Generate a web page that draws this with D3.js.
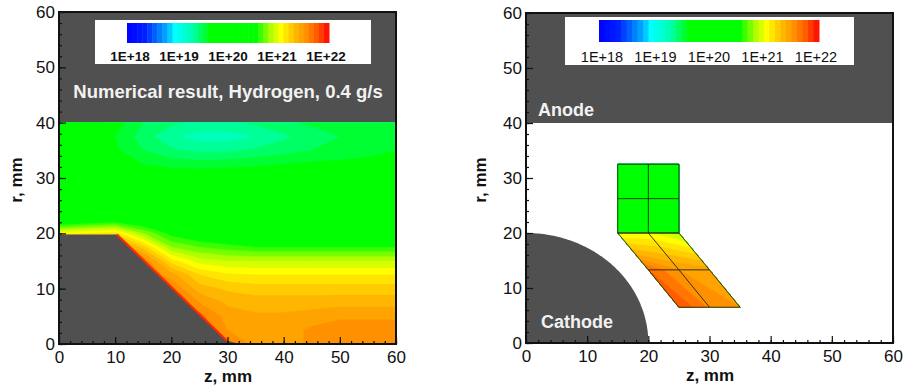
<!DOCTYPE html>
<html>
<head>
<meta charset="utf-8">
<script src="https://cdn.jsdelivr.net/npm/d3@7"></script>
<style>
  body { margin: 0; background: #fff; }
  text { font-family: "Liberation Sans", Arial, sans-serif; }
</style>
</head>
<body>
<svg id="chart" width="906" height="389"></svg>
<script>
// axes
const zTicks = [0, 10, 20, 30, 40, 50, 60];
const rTicks = [0, 10, 20, 30, 40, 50, 60];
const cbTicks = [18, 19, 20, 21, 22];
const cbLabels = ['1E+18', '1E+19', '1E+20', '1E+21', '1E+22'];
const levels = d3.range(18, 22.001, 0.1);

// numerical result: log10 density on a z/r grid (rows from r=40 down to r=0)
const zNodes = [0, 5, 10, 15, 20, 25, 30, 35, 40, 45, 50, 55, 60];
const rNodes = [40, 37.5, 35, 32.5, 30, 27.5, 25, 22.5, 20, 17.5, 15, 12.5, 10, 7.5, 5, 2.5, 0];
const logDensity = [
  [19.80, 19.75, 19.65, 19.50, 19.42, 19.38, 19.38, 19.42, 19.48, 19.52, 19.55, 19.58, 19.60],
  [19.80, 19.72, 19.60, 19.45, 19.32, 19.25, 19.25, 19.30, 19.38, 19.45, 19.50, 19.55, 19.58],
  [19.85, 19.75, 19.62, 19.50, 19.42, 19.38, 19.38, 19.42, 19.46, 19.50, 19.53, 19.56, 19.60],
  [19.95, 19.85, 19.72, 19.60, 19.56, 19.55, 19.56, 19.58, 19.60, 19.62, 19.63, 19.64, 19.65],
  [20.00, 19.95, 19.85, 19.75, 19.70, 19.70, 19.70, 19.70, 19.70, 19.72, 19.72, 19.72, 19.72],
  [20.05, 20.05, 20.00, 19.95, 19.90, 19.90, 19.90, 19.90, 19.90, 19.90, 19.90, 19.90, 19.90],
  [20.10, 20.15, 20.15, 20.10, 20.05, 20.05, 20.05, 20.05, 20.05, 20.05, 20.05, 20.05, 20.05],
  [20.30, 20.40, 20.45, 20.40, 20.25, 20.20, 20.15, 20.15, 20.15, 20.15, 20.15, 20.15, 20.15],
  [21.05, 21.10, 21.15, 20.80, 20.55, 20.45, 20.40, 20.35, 20.35, 20.35, 20.35, 20.35, 20.35],
  [21.60, 21.60, 21.60, 21.25, 20.80, 20.70, 20.65, 20.60, 20.60, 20.60, 20.60, 20.60, 20.60],
  [21.60, 21.60, 21.60, 21.60, 21.15, 20.95, 20.90, 20.90, 20.90, 20.90, 20.90, 20.90, 20.90],
  [21.60, 21.60, 21.60, 21.60, 21.45, 21.20, 21.12, 21.10, 21.10, 21.10, 21.10, 21.10, 21.10],
  [21.60, 21.60, 21.60, 21.60, 21.60, 21.35, 21.28, 21.25, 21.25, 21.25, 21.25, 21.25, 21.25],
  [21.60, 21.60, 21.60, 21.60, 21.60, 21.50, 21.38, 21.35, 21.35, 21.35, 21.36, 21.36, 21.36],
  [21.60, 21.60, 21.60, 21.60, 21.60, 21.65, 21.45, 21.42, 21.42, 21.45, 21.48, 21.48, 21.48],
  [21.60, 21.60, 21.60, 21.60, 21.60, 21.65, 21.50, 21.45, 21.45, 21.52, 21.56, 21.56, 21.56],
  [21.60, 21.60, 21.60, 21.60, 21.60, 21.65, 21.65, 21.45, 21.45, 21.52, 21.56, 21.56, 21.56]
];
// cone cathode outline (z, r)
const coneZ = [0, 0, 10.3, 29.9, 32.2];
const coneR = [0, 19.8, 19.8, 0.6, 0];
const anodeR = 40;

// measured: two mesh zones (rows from top)
const upperZ = [[15, 20, 25], [15, 20, 25], [15, 20, 25]];
const upperR = [[32.5, 32.5, 32.5], [26.25, 26.25, 26.25], [20, 20, 20]];
const upperV = [[20.1, 20.1, 20.1], [20.1, 20.1, 20.1], [20.1, 20.1, 20.1]];
const lowerZ = [[15, 20, 25], [20, 25, 30], [25, 30, 35]];
const lowerR = [[20, 20, 20], [13.3, 13.3, 13.3], [6.5, 6.5, 6.5]];
const lowerV = [[21.00, 21.02, 20.85], [21.70, 21.50, 21.45], [21.80, 21.58, 21.50]];
const sphereRadius = 20;

const color = d3.scaleLinear()
  .domain([18, 18.35, 18.55, 18.8, 18.95, 19.3, 19.65, 20.55, 20.85, 21.05, 21.3, 21.55, 21.8, 22])
  .range(['#0000ff', '#0020ff', '#0060ff', '#00b0ff', '#00ffff', '#00ffb0', '#00ff00', '#00ff00',
          '#b0ff00', '#ffff00', '#ffc000', '#ff9000', '#ff5000', '#ff0000'])
  .clamp(true);

const gray = '#505050';
const svg = d3.select('#chart');

function drawZone(g, x, y, Z, R, V) {
  const ny = V.length, nx = V[0].length;
  const contours = d3.contours().size([nx, ny]).thresholds(levels)(V.flat());
  const toPhys = (cx, cy) => {
    const u = Math.max(0, Math.min(nx - 1, cx - 0.5));
    const v = Math.max(0, Math.min(ny - 1, cy - 0.5));
    const i = Math.min(nx - 2, Math.floor(u)), j = Math.min(ny - 2, Math.floor(v));
    const fu = u - i, fv = v - j;
    const bl = A => (A[j][i] * (1 - fu) + A[j][i + 1] * fu) * (1 - fv)
      + (A[j + 1][i] * (1 - fu) + A[j + 1][i + 1] * fu) * fv;
    return [x(bl(Z)), y(bl(R))];
  };
  const path = d3.geoPath(d3.geoTransform({
    point(px, py) { const p = toPhys(px, py); this.stream.point(p[0], p[1]); }
  }));
  g.append('g').selectAll('path')
    .data(contours)
    .join('path')
    .attr('d', path)
    .attr('fill', d => color(d.value + 0.05))
    .attr('stroke', d => color(d.value + 0.05))
    .attr('stroke-width', 0.3);
}

function drawMesh(g, x, y, Z, R) {
  const line = d3.line();
  const rows = Z.map((row, j) => row.map((z, i) => [x(z), y(R[j][i])]));
  const cols = Z[0].map((_, i) => Z.map((row, j) => [x(row[i]), y(R[j][i])]));
  g.append('g').selectAll('path')
    .data(rows.concat(cols))
    .join('path')
    .attr('d', line)
    .attr('fill', 'none')
    .attr('stroke', '#1a2a1a')
    .attr('stroke-width', 0.9);
}

function drawColorbar(box, bar, font) {
  const g = svg.append('g');
  g.append('rect').attr('x', box.x).attr('y', box.y).attr('width', box.w).attr('height', box.h).attr('fill', '#fff');
  const cx = d3.scaleLinear().domain([18, 22]).range([bar.x0, bar.x1]);
  g.selectAll('rect.band')
    .data(levels.slice(0, -1))
    .join('rect')
    .attr('class', 'band')
    .attr('x', d => cx(d))
    .attr('y', bar.y)
    .attr('width', d => cx(d + 0.1) - cx(d) + 0.5)
    .attr('height', bar.h)
    .attr('fill', d => color(d + 0.05));
  const lx = d3.scaleLinear().domain([18, 22]).range([bar.x0 + 3, bar.x1 - 3]);
  g.selectAll('text')
    .data(cbTicks)
    .join('text')
    .attr('x', d => lx(d))
    .attr('y', bar.label)
    .attr('text-anchor', 'middle')
    .attr('font-size', font.size)
    .attr('font-weight', font.weight)
    .attr('fill', '#111')
    .text((d, i) => cbLabels[i]);
}

function drawAxes(x, y, titleX, titleY) {
  const [x0, x1] = x.range(), [y0, y1] = y.range();
  const ax = svg.append('g').attr('transform', `translate(0,${y0})`);
  ax.call(d3.axisBottom(x).tickValues(d3.range(0, 61, 2)).tickSize(-3).tickFormat(''));
  const axMaj = svg.append('g').attr('transform', `translate(0,${y0})`)
    .call(d3.axisBottom(x).tickValues(zTicks).tickSize(-7).tickPadding(7).tickFormat(d3.format('d')));
  const ay = svg.append('g').attr('transform', `translate(${x0},0)`);
  ay.call(d3.axisLeft(y).tickValues(d3.range(0, 61, 2)).tickSize(-3).tickFormat(''));
  const ayMaj = svg.append('g').attr('transform', `translate(${x0},0)`)
    .call(d3.axisLeft(y).tickValues(rTicks).tickSize(-7).tickPadding(4).tickFormat(d3.format('d')));
  [ax, axMaj, ay, ayMaj].forEach(g => {
    g.selectAll('.domain').remove();
    g.selectAll('line').attr('stroke', '#111').attr('stroke-width', 1.2);
    g.selectAll('text').attr('font-size', 17).attr('fill', '#111').attr('font-family', '"Liberation Sans", Arial, sans-serif');
  });
  svg.append('rect')
    .attr('x', x0).attr('y', y1).attr('width', x1 - x0).attr('height', y0 - y1)
    .attr('fill', 'none').attr('stroke', '#111').attr('stroke-width', 2);
  svg.append('text')
    .attr('x', titleX[0]).attr('y', titleX[1])
    .attr('text-anchor', 'middle').attr('font-size', 17).attr('font-weight', 'bold').attr('fill', '#111')
    .text('z, mm');
  svg.append('text')
    .attr('transform', `translate(${titleY[0]},${titleY[1]}) rotate(-90)`)
    .attr('text-anchor', 'middle').attr('font-size', 17).attr('font-weight', 'bold').attr('fill', '#111')
    .text('r, mm');
}

// ---------- left panel: numerical result ----------
{
  const x = d3.scaleLinear().domain([0, 60]).range([59, 396]);
  const y = d3.scaleLinear().domain([0, 60]).range([344, 12]);
  svg.append('defs').append('clipPath').attr('id', 'clipL')
    .append('rect').attr('x', 59).attr('y', 12).attr('width', 337).attr('height', 332);
  const g = svg.append('g').attr('clip-path', 'url(#clipL)');
  g.append('rect').attr('x', 59).attr('y', 12).attr('width', 337).attr('height', 332).attr('fill', gray);
  const zGrid = rNodes.map(() => zNodes.slice());
  const rGrid = rNodes.map(r => zNodes.map(() => r));
  drawZone(g, x, y, zGrid, rGrid, logDensity);
  const cone = coneZ.map((z, i) => [x(z), y(coneR[i])]);
  g.append('path').attr('d', d3.line()(cone) + 'Z').attr('fill', gray);
  g.append('path').attr('d', d3.line()(cone.slice(2, 4)))
    .attr('fill', 'none').attr('stroke', '#ff2a00').attr('stroke-width', 2.2);

  drawColorbar({ x: 95, y: 20, w: 276, h: 44 }, { x0: 127, x1: 329, y: 23, h: 20, label: 61 },
    { size: 13.5, weight: 'bold' });
  svg.append('text')
    .attr('x', 228).attr('y', 98).attr('text-anchor', 'middle')
    .attr('font-size', 18.5).attr('font-weight', 'bold').attr('fill', '#f2f2f2')
    .text('Numerical result, Hydrogen, 0.4 g/s');
  drawAxes(x, y, [228, 382], [22, 180]);
}

// ---------- right panel: measurement mesh ----------
{
  const x = d3.scaleLinear().domain([0, 60]).range([526, 893]);
  const y = d3.scaleLinear().domain([0, 60]).range([343, 13]);
  svg.append('defs').append('clipPath').attr('id', 'clipR')
    .append('rect').attr('x', 526).attr('y', 13).attr('width', 367).attr('height', 330);
  const g = svg.append('g').attr('clip-path', 'url(#clipR)');
  g.append('rect').attr('x', 526).attr('y', 13).attr('width', 367).attr('height', 330).attr('fill', '#fff');
  g.append('rect').attr('x', 526).attr('y', y(60)).attr('width', 367).attr('height', y(anodeR) - y(60)).attr('fill', gray);
  const arc = d3.range(0, 90.5, 1).map(a => {
    const t = a * Math.PI / 180;
    return [x(sphereRadius * Math.cos(t)), y(sphereRadius * Math.sin(t))];
  });
  g.append('path').attr('d', d3.line()([[x(0), y(0)]].concat(arc)) + 'Z').attr('fill', gray);

  drawZone(g, x, y, upperZ, upperR, upperV);
  drawZone(g, x, y, lowerZ, lowerR, lowerV);
  drawMesh(g, x, y, upperZ, upperR);
  drawMesh(g, x, y, lowerZ, lowerR);

  g.append('text').attr('x', 538).attr('y', 116).attr('font-size', 18).attr('font-weight', 'bold')
    .attr('fill', '#f2f2f2').text('Anode');
  g.append('text').attr('x', 541).attr('y', 328).attr('font-size', 18).attr('font-weight', 'bold')
    .attr('fill', '#f2f2f2').text('Cathode');

  drawColorbar({ x: 565, y: 17, w: 289, h: 48 }, { x0: 599, x1: 819, y: 20, h: 22, label: 62 },
    { size: 14.5, weight: 'normal' });
  drawAxes(x, y, [710, 381], [486, 180]);
}
</script>
</body>
</html>
